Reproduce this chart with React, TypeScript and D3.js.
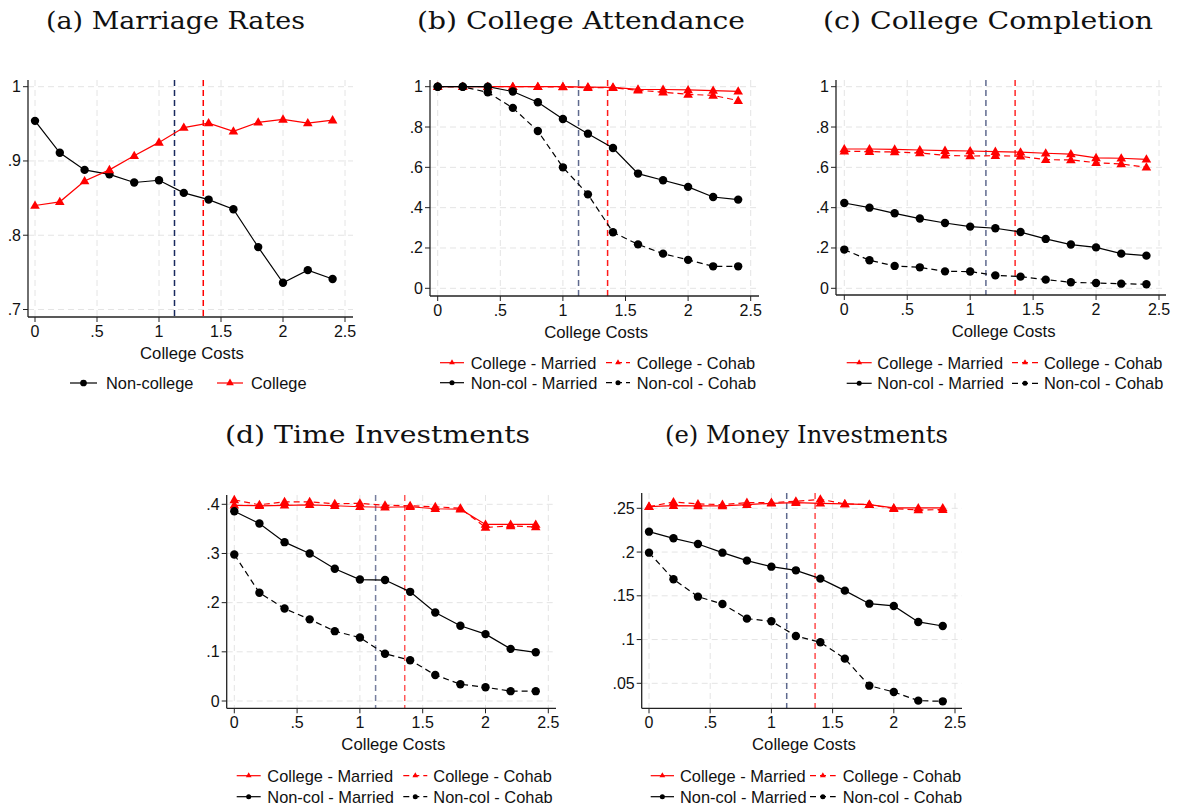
import React from "react";
import * as d3 from "d3";

// ---------- data ----------
const costs = [0, 0.2, 0.4, 0.6, 0.8, 1.0, 1.2, 1.4, 1.6, 1.8, 2.0, 2.2, 2.4];
const xTicks = [0, 0.5, 1, 1.5, 2, 2.5];
const xTickLabels = ["0", ".5", "1", "1.5", "2", "2.5"];
const vlineNavy = 1.125;
const vlineRed = 1.357;

// (a) Marriage rates
const aNonCollege = [0.954, 0.911, 0.888, 0.882, 0.871, 0.874, 0.857, 0.848, 0.835, 0.784, 0.736, 0.753, 0.741];
const aCollege = [0.84, 0.845, 0.873, 0.888, 0.907, 0.925, 0.945, 0.951, 0.94, 0.952, 0.956, 0.951, 0.955];
const aTicks = [0.7, 0.8, 0.9, 1];
const aTickLabels = [".7", ".8", ".9", "1"];

// (b) College attendance
const bColMarried = [1, 1, 1, 1, 1, 1, 0.998, 0.997, 0.987, 0.986, 0.984, 0.981, 0.977];
const bColCohab = [1, 1, 1, 1, 1, 0.999, 0.995, 0.995, 0.982, 0.973, 0.962, 0.957, 0.931];
const bNonMarried = [1, 1, 1, 0.976, 0.923, 0.84, 0.767, 0.696, 0.569, 0.536, 0.503, 0.453, 0.44];
const bNonCohab = [1, 1, 0.972, 0.895, 0.78, 0.6, 0.466, 0.278, 0.218, 0.172, 0.141, 0.109, 0.109];

// (c) College completion
const cColMarried = [0.691, 0.691, 0.689, 0.686, 0.683, 0.681, 0.678, 0.675, 0.67, 0.666, 0.647, 0.645, 0.64];
const cColCohab = [0.68, 0.678, 0.676, 0.671, 0.66, 0.656, 0.658, 0.655, 0.638, 0.637, 0.623, 0.617, 0.6];
const cNonMarried = [0.423, 0.4, 0.372, 0.346, 0.324, 0.306, 0.298, 0.279, 0.245, 0.217, 0.203, 0.172, 0.162];
const cNonCohab = [0.192, 0.139, 0.111, 0.104, 0.084, 0.083, 0.064, 0.058, 0.043, 0.03, 0.026, 0.023, 0.02];
const bcTicks = [0, 0.2, 0.4, 0.6, 0.8, 1];
const bcTickLabels = ["0", ".2", ".4", ".6", ".8", "1"];

// (d) Time investments
const dColMarried = [0.398, 0.397, 0.398, 0.399, 0.397, 0.395, 0.394, 0.395, 0.391, 0.39, 0.359, 0.359, 0.359];
const dColCohab = [0.409, 0.399, 0.405, 0.405, 0.401, 0.402, 0.398, 0.397, 0.395, 0.392, 0.353, 0.356, 0.354];
const dNonMarried = [0.386, 0.361, 0.323, 0.3, 0.269, 0.247, 0.246, 0.222, 0.18, 0.153, 0.136, 0.106, 0.099];
const dNonCohab = [0.298, 0.22, 0.188, 0.166, 0.142, 0.129, 0.096, 0.083, 0.053, 0.034, 0.028, 0.02, 0.02];
const dTicks = [0, 0.1, 0.2, 0.3, 0.4];
const dTickLabels = ["0", ".1", ".2", ".3", ".4"];

// (e) Money investments
const eColMarried = [0.2519, 0.253, 0.2527, 0.2527, 0.2542, 0.2557, 0.2565, 0.2557, 0.255, 0.2542, 0.2504, 0.2504, 0.2504];
const eColCohab = [0.2519, 0.2572, 0.255, 0.2542, 0.2565, 0.2565, 0.258, 0.2603, 0.255, 0.2542, 0.2496, 0.2481, 0.2485];
const eNonMarried = [0.2233, 0.2157, 0.2092, 0.1993, 0.1902, 0.1833, 0.1791, 0.1696, 0.1559, 0.141, 0.1384, 0.1201, 0.1155];
const eNonCohab = [0.1993, 0.1689, 0.149, 0.1407, 0.1239, 0.1209, 0.1041, 0.0969, 0.0782, 0.0473, 0.0401, 0.0302, 0.0294];
const eTicks = [0.05, 0.1, 0.15, 0.2, 0.25];
const eTickLabels = [".05", ".1", ".15", ".2", ".25"];

const labelsFour = ["College - Married", "College - Cohab", "Non-col - Married", "Non-col - Cohab"];
const labelsTwo = ["Non-college", "College"];

// ---------- styles ----------
const RED = "#ff0000";
const BLACK = "#000000";
const NAVY = "#1a2a5e";
const GRID = "#e4e4e4";
const SANS = "'Liberation Sans', Arial, Helvetica, sans-serif";
const SERIF = "'DejaVu Serif', serif";

type Series = { values: number[]; color: string; dashed: boolean; marker: "circle" | "triangle" };

type PanelSpec = {
  title: string;
  titleX: number;
  titleY: number;
  titleW: number;
  box: [number, number, number, number]; // left, top, right, bottom
  xPix: [number, number]; // pixel at 0 and 2.5
  yTicks: number[];
  yTickLabels: string[];
  yPix: [number, number]; // pixel at first and last tick
  series: Series[];
  legendLabels: string[];
  legend: { rows: number[]; cols: { sx0: number; sx1: number; tx: number }[] };
  legendMarkerScale: number;
  navyOpacity: number;
  redOpacity: number;
};

function markerPath(kind: "circle" | "triangle", scale: number) {
  if (kind === "circle") return d3.symbol(d3.symbolCircle, Math.PI * Math.pow(4.2 * scale, 2))()!;
  const side = 9.6 * scale;
  return d3.symbol(d3.symbolTriangle, (side * side * Math.sqrt(3)) / 4)()!;
}

function Panel({ p }: { p: PanelSpec }) {
  const [L, T, R, B] = p.box;
  const x = d3.scaleLinear().domain([0, 2.5]).range(p.xPix);
  const y = d3
    .scaleLinear()
    .domain([p.yTicks[0], p.yTicks[p.yTicks.length - 1]])
    .range(p.yPix);
  const line = d3
    .line<number>()
    .x((_, i) => x(costs[i]))
    .y((v) => y(v));

  const legendItems = p.series.map((s, i) => ({ s, label: p.legendLabels[i] }));

  return (
    <g>
      <text
        x={p.titleX}
        y={p.titleY}
        fontFamily={SERIF}
        fontSize={24}
        textLength={p.titleW}
        lengthAdjust="spacingAndGlyphs"
        fill="#111"
      >
        {p.title}
      </text>

      {/* grid */}
      {xTicks.map((t) => (
        <line key={"gx" + t} x1={x(t)} x2={x(t)} y1={T} y2={B} stroke={GRID} strokeWidth={1} strokeDasharray="6,4" />
      ))}
      {p.yTicks.map((t) => (
        <line key={"gy" + t} x1={L} x2={R} y1={y(t)} y2={y(t)} stroke={GRID} strokeWidth={1} strokeDasharray="6,4" />
      ))}

      {/* vertical reference lines */}
      <line x1={x(vlineNavy)} x2={x(vlineNavy)} y1={T} y2={B} stroke={NAVY} strokeOpacity={p.navyOpacity} strokeWidth={1.5} strokeDasharray="6,4" />
      <line x1={x(vlineRed)} x2={x(vlineRed)} y1={T} y2={B} stroke={RED} strokeOpacity={p.redOpacity} strokeWidth={1.5} strokeDasharray="6,4" />

      {/* series */}
      {p.series.map((s, si) => (
        <g key={"s" + si}>
          <path d={line(s.values)!} fill="none" stroke={s.color} strokeWidth={1.2} strokeDasharray={s.dashed ? "6,4" : undefined} />
          {s.values.map((v, i) => (
            <path key={i} d={markerPath(s.marker, 1)} transform={`translate(${x(costs[i])},${y(v) + (s.marker === "triangle" ? 0.5 : 0)})`} fill={s.color} />
          ))}
        </g>
      ))}

      {/* axes */}
      <line x1={L} x2={L} y1={T} y2={B} stroke="#222" strokeWidth={1.3} />
      <line x1={L} x2={R} y1={B} y2={B} stroke="#222" strokeWidth={1.3} />
      {p.yTicks.map((t, i) => (
        <g key={"yt" + t}>
          <line x1={L - 5} x2={L} y1={y(t)} y2={y(t)} stroke="#222" strokeWidth={1} />
          <text x={L - 7} y={y(t) + 5.5} textAnchor="end" fontFamily={SANS} fontSize={16} fill="#111">
            {p.yTickLabels[i]}
          </text>
        </g>
      ))}
      {xTicks.map((t, i) => (
        <g key={"xt" + t}>
          <line x1={x(t)} x2={x(t)} y1={B} y2={B + 5} stroke="#222" strokeWidth={1} />
          <text x={x(t)} y={B + 20} textAnchor="middle" fontFamily={SANS} fontSize={16} fill="#111">
            {xTickLabels[i]}
          </text>
        </g>
      ))}
      <text x={(x(0) + x(2.5)) / 2 + 2} y={B + 42} textAnchor="middle" fontFamily={SANS} fontSize={16.7} fill="#111">
        College Costs
      </text>

      {/* legend */}
      {legendItems.map((it, i) => {
        const ncol = p.legend.cols.length;
        const row = Math.floor(i / ncol);
        const col = p.legend.cols[i % ncol];
        const ly = p.legend.rows[row];
        const mx = (col.sx0 + col.sx1) / 2;
        return (
          <g key={"lg" + i}>
            <line x1={col.sx0} x2={col.sx1} y1={ly} y2={ly} stroke={it.s.color} strokeWidth={1.2} strokeDasharray={it.s.dashed ? "6,4" : undefined} />
            <path d={markerPath(it.s.marker, p.legendMarkerScale)} transform={`translate(${mx},${ly})`} fill={it.s.color} />
            <text x={col.tx} y={ly + 5.8} fontFamily={SANS} fontSize={16.4} fill="#111">
              {it.label}
            </text>
          </g>
        );
      })}
    </g>
  );
}

const four = (cm: number[], cc: number[], nm: number[], nc: number[]): Series[] => [
  { values: cm, color: RED, dashed: false, marker: "triangle" },
  { values: cc, color: RED, dashed: true, marker: "triangle" },
  { values: nm, color: BLACK, dashed: false, marker: "circle" },
  { values: nc, color: BLACK, dashed: true, marker: "circle" },
];

const panels: PanelSpec[] = [
  {
    title: "(a) Marriage Rates",
    titleX: 46,
    titleY: 29,
    titleW: 259,
    box: [28, 80, 353, 317],
    xPix: [35, 345],
    yTicks: aTicks,
    yTickLabels: aTickLabels,
    yPix: [309.5, 86.7],
    series: [
      { values: aNonCollege, color: BLACK, dashed: false, marker: "circle" },
      { values: aCollege, color: RED, dashed: false, marker: "triangle" },
    ],
    legendLabels: labelsTwo,
    legend: { rows: [383], cols: [{ sx0: 70, sx1: 97, tx: 106 }, { sx0: 217, sx1: 243, tx: 251 }] },
    legendMarkerScale: 0.8,
    navyOpacity: 1,
    redOpacity: 1,
  },
  {
    title: "(b) College Attendance",
    titleX: 417,
    titleY: 29,
    titleW: 328,
    box: [430, 80, 759, 296],
    xPix: [437.7, 750.7],
    yTicks: bcTicks,
    yTickLabels: bcTickLabels,
    yPix: [288.3, 86.7],
    series: four(bColMarried, bColCohab, bNonMarried, bNonCohab),
    legendLabels: labelsFour,
    legend: { rows: [362.7, 382.7], cols: [{ sx0: 440, sx1: 464, tx: 470.7 }, { sx0: 606, sx1: 630, tx: 636.7 }] },
    legendMarkerScale: 0.6,
    navyOpacity: 0.7,
    redOpacity: 0.9,
  },
  {
    title: "(c) College Completion",
    titleX: 823,
    titleY: 29,
    titleW: 330,
    box: [836, 80, 1166, 295],
    xPix: [844.3, 1159],
    yTicks: bcTicks,
    yTickLabels: bcTickLabels,
    yPix: [288.3, 86.7],
    series: four(cColMarried, cColCohab, cNonMarried, cNonCohab),
    legendLabels: labelsFour,
    legend: { rows: [362.7, 383.3], cols: [{ sx0: 846.7, sx1: 871.7, tx: 877.3 }, { sx0: 1012, sx1: 1038, tx: 1044 }] },
    legendMarkerScale: 0.6,
    navyOpacity: 0.7,
    redOpacity: 0.85,
  },
  {
    title: "(d) Time Investments",
    titleX: 225,
    titleY: 443,
    titleW: 305,
    box: [226.7, 495, 556, 708.3],
    xPix: [234.3, 548.3],
    yTicks: dTicks,
    yTickLabels: dTickLabels,
    yPix: [701, 504.3],
    series: four(dColMarried, dColCohab, dNonMarried, dNonCohab),
    legendLabels: labelsFour,
    legend: { rows: [775.7, 796.7], cols: [{ sx0: 236.7, sx1: 260.7, tx: 267.3 }, { sx0: 403.3, sx1: 427.3, tx: 433.3 }] },
    legendMarkerScale: 0.6,
    navyOpacity: 0.6,
    redOpacity: 0.65,
  },
  {
    title: "(e) Money Investments",
    titleX: 665,
    titleY: 443,
    titleW: 283,
    box: [641.7, 493, 962, 708.3],
    xPix: [649, 955],
    yTicks: eTicks,
    yTickLabels: eTickLabels,
    yPix: [683.3, 508.3],
    series: four(eColMarried, eColCohab, eNonMarried, eNonCohab),
    legendLabels: labelsFour,
    legend: { rows: [775.7, 796.7], cols: [{ sx0: 650.7, sx1: 674, tx: 680 }, { sx0: 810, sx1: 835.7, tx: 842.7 }] },
    legendMarkerScale: 0.6,
    navyOpacity: 0.7,
    redOpacity: 0.7,
  },
];

export default function App() {
  return (
    <div style={{ position: "absolute", left: 0, top: 0 }}>
      <svg width={1177} height={810} viewBox="0 0 1177 810" style={{ display: "block", background: "#fff" }}>
        <rect x={0} y={0} width={1177} height={810} fill="#fff" />
        {panels.map((p, i) => (
          <Panel key={i} p={p} />
        ))}
      </svg>
    </div>
  );
}
